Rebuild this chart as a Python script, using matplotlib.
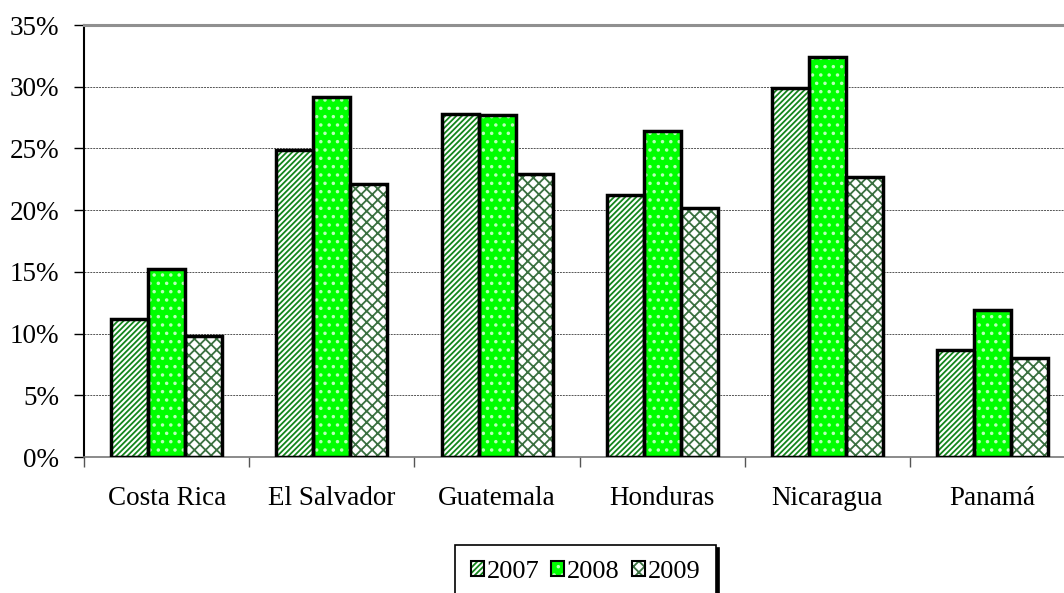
import matplotlib.pyplot as plt
import numpy as np
from matplotlib.patches import Patch
from matplotlib.ticker import MultipleLocator, FuncFormatter

countries = ["Costa Rica", "El Salvador", "Guatemala", "Honduras", "Nicaragua", "Panamá"]
years = ["2007", "2008", "2009"]
v2007 = [11.2, 24.9, 27.8, 21.2, 29.9, 8.7]
v2008 = [15.2, 29.2, 27.7, 26.4, 32.4, 11.9]
v2009 = [9.8, 22.1, 22.9, 20.2, 22.7, 8.0]

plt.rcParams['font.family'] = ['Liberation Serif', 'DejaVu Serif']
plt.rcParams['hatch.linewidth'] = 1.3

fig = plt.figure(figsize=(10.64, 5.93), dpi=100)
ax = fig.add_axes([0.0792, 0.2293, 0.9311, 0.7285])

x = np.arange(len(countries))
w = 0.224
styles = [
    (v2007, "white", "//////", "#14851c"),
    (v2008, "#00ff00", "..", "#b8ffb8"),
    (v2009, "white", "xxx", "#3a7040"),
]
for i, (vals, fc, hatch, hc) in enumerate(styles):
    pos = x + (i - 1) * w
    # hatch layer, then black outline on top
    ax.bar(pos, vals, w, color=fc, hatch=hatch, edgecolor=hc, linewidth=0, zorder=2)
    ax.bar(pos, vals, w, fill=False, edgecolor="black", linewidth=2.5, zorder=3)

ax.set_xlim(-0.5, 5.5)
ax.set_ylim(0, 35)
ax.yaxis.set_major_locator(MultipleLocator(5))
ax.yaxis.set_major_formatter(FuncFormatter(lambda v, p: f"{v:.0f}%"))
ax.yaxis.grid(True, linestyle=(0, (2, 1)), color="#555555", linewidth=0.7, zorder=0)
ax.set_axisbelow(True)

ax.set_xticks(x)
ax.set_xticklabels(countries)
ax.set_xticks(np.arange(-0.5, 6.0, 1), minor=True)
ax.tick_params(axis="x", which="major", length=0, pad=21, labelsize=19.5)
ax.tick_params(axis="x", which="minor", length=7, width=1, color="#555555")
ax.tick_params(axis="y", length=7, width=1, pad=11, labelsize=19.5)

ax.spines["top"].set_color("#909090")
ax.spines["top"].set_linewidth(2.2)
ax.spines["right"].set_visible(False)
ax.spines["left"].set_linewidth(1.5)
ax.spines["bottom"].set_color("#777777")
ax.spines["bottom"].set_linewidth(1.2)

outline = dict(fill=False, edgecolor="black", linewidth=1.5)
handles = [
    (Patch(facecolor="white", hatch="//////", edgecolor="#14851c", linewidth=0), Patch(**outline)),
    (Patch(facecolor="#00ff00", hatch="..", edgecolor="#b8ffb8", linewidth=0), Patch(**outline)),
    (Patch(facecolor="white", hatch="xxx", edgecolor="#3a7040", linewidth=0), Patch(**outline)),
]
leg = fig.legend(handles, years, loc="upper left", bbox_to_anchor=(455 / 1064, 1 - 545 / 593),
                 borderaxespad=0, ncol=3, fontsize=19, frameon=True, fancybox=False,
                 handlelength=0.5, handleheight=0.5, handletextpad=0.1, columnspacing=0.45,
                 borderpad=0.6, shadow={"color": "black", "alpha": 1})
leg.get_frame().set_edgecolor("black")
leg.get_frame().set_linewidth(1.2)

fig.savefig("out.png", dpi=100)
